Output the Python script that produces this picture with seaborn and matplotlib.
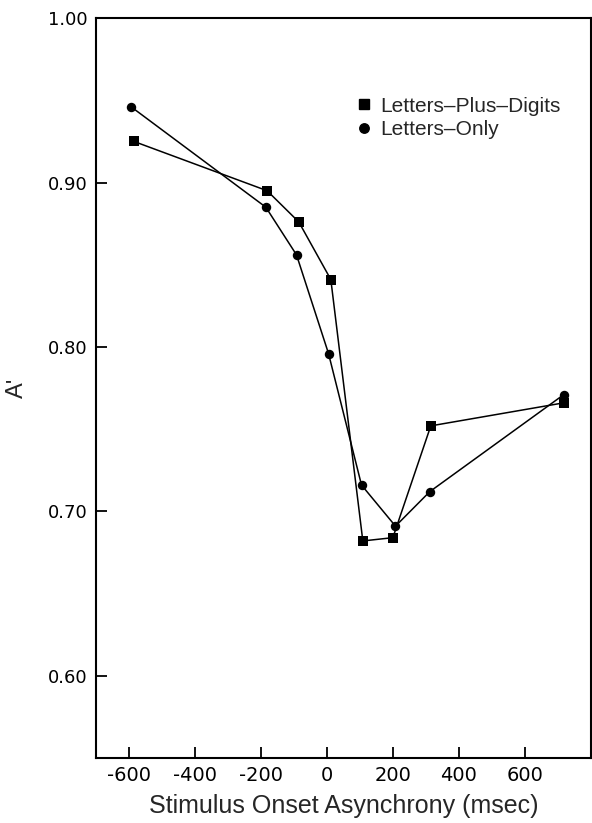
import numpy as np
import pandas as pd
import matplotlib
matplotlib.use("Agg")
import matplotlib.pyplot as plt
import seaborn as sns
from matplotlib.lines import Line2D

# Stimulus onset asynchrony (msec) and A' for each condition
soa_plus_digits = [-585, -181, -85, 12, 109, 200, 315, 718]
a_plus_digits = [0.925, 0.895, 0.876, 0.841, 0.682, 0.684, 0.752, 0.766]

soa_letters_only = [-593, -185, -92, 5, 105, 208, 312, 718]
a_letters_only = [0.946, 0.885, 0.856, 0.796, 0.716, 0.691, 0.712, 0.771]

series_names = ["Letters\u2013Plus\u2013Digits", "Letters\u2013Only"]
x_ticks = [-600, -400, -200, 0, 200, 400, 600]
y_ticks = [0.60, 0.70, 0.80, 0.90, 1.00]
y_tick_labels = ["0.60", "0.70", "0.80", "0.90", "1.00"]

df = pd.DataFrame({
    "soa": soa_plus_digits + soa_letters_only,
    "a": a_plus_digits + a_letters_only,
    "cond": [series_names[0]] * len(soa_plus_digits) + [series_names[1]] * len(soa_letters_only),
})

sns.set_theme(style="ticks")
plt.rcParams["font.family"] = ["Liberation Sans", "DejaVu Sans"]

fig = plt.figure(figsize=(5.92, 8.23), dpi=100)
ax = fig.add_axes([0.162, 0.079, 0.836, 0.899])

sns.lineplot(
    data=df, x="soa", y="a", hue="cond", style="cond",
    hue_order=series_names, style_order=series_names,
    palette=["black", "black"],
    markers={series_names[0]: "s", series_names[1]: "o"},
    dashes=False, sort=False, linewidth=1.1, markersize=6.8,
    markeredgewidth=0, ax=ax, legend=False,
)

ax.set_xlim(-700, 800)
ax.set_ylim(0.55, 1.00)
ax.set_xticks(x_ticks)
ax.set_xticklabels([str(t) for t in x_ticks], fontsize=14, family="DejaVu Sans")
ax.set_yticks(y_ticks)
ax.set_yticklabels(y_tick_labels, fontsize=13, family="DejaVu Sans")
ax.tick_params(direction="in", length=8, width=1.3, colors="black", pad=6)

for s in ax.spines.values():
    s.set_visible(True)
    s.set_linewidth(1.5)
    s.set_color("black")

ax.set_xlabel("Stimulus Onset Asynchrony (msec)", fontsize=18, labelpad=6)
ax.set_ylabel("A\u02b9", fontsize=17, labelpad=14)

# legend: markers only, no frame
handles = [
    Line2D([], [], marker="s", color="black", linestyle="none", markersize=6.8),
    Line2D([], [], marker="o", color="black", linestyle="none", markersize=6.8),
]
ax.legend(handles, series_names, loc="upper left", bbox_to_anchor=(0.513, 0.905),
          frameon=False, fontsize=15, handlelength=0.6, handletextpad=0.45,
          labelspacing=0.2, borderaxespad=0)

fig.savefig("out.png", dpi=100)
